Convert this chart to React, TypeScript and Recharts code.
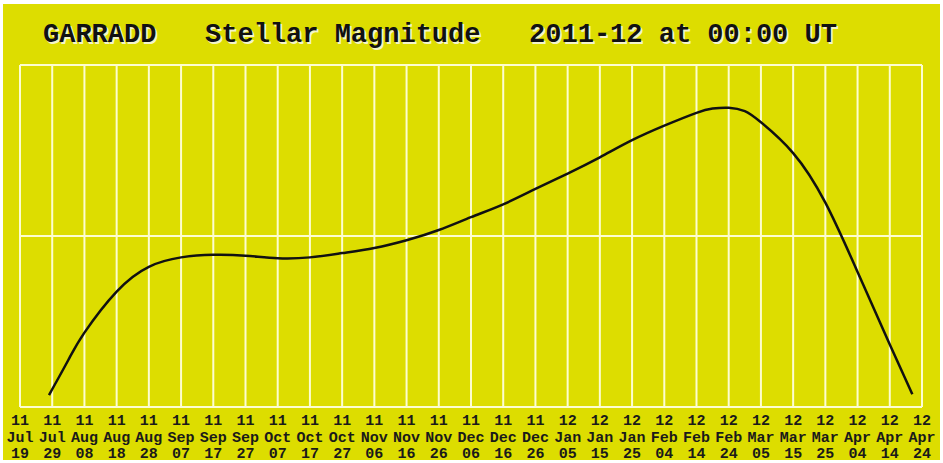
import React from "react";
import { LineChart, Line, XAxis, YAxis, CartesianGrid } from "recharts";

// days counted from 2011 Jul 19
const tickDays = [
  0, 10, 20, 30, 40, 50, 60, 70, 80, 90, 100, 110, 120, 130, 140, 150, 160,
  170, 180, 190, 200, 210, 220, 230, 240, 250, 260, 270, 280,
];
const tickYears = [
  "11", "11", "11", "11", "11", "11", "11", "11", "11", "11", "11", "11",
  "11", "11", "11", "11", "11", "12", "12", "12", "12", "12", "12", "12",
  "12", "12", "12", "12", "12",
];
const tickMonths = [
  "Jul", "Jul", "Aug", "Aug", "Aug", "Sep", "Sep", "Sep", "Oct", "Oct", "Oct",
  "Nov", "Nov", "Nov", "Dec", "Dec", "Dec", "Jan", "Jan", "Jan", "Feb", "Feb",
  "Feb", "Mar", "Mar", "Mar", "Apr", "Apr", "Apr",
];
const tickDates = [
  "19", "29", "08", "18", "28", "07", "17", "27", "07", "17", "27", "06",
  "16", "26", "06", "16", "26", "05", "15", "25", "04", "14", "24", "05",
  "15", "25", "04", "14", "24",
];

const curveDays = [
  9, 15, 20, 30, 40, 50, 60, 70, 80, 90, 100, 110, 120, 130, 140, 150, 160,
  170, 180, 190, 200, 210, 215, 220, 225, 230, 240, 250, 260, 270, 277,
];
const magnitudes = [
  9.86, 9.45, 9.13, 8.65, 8.36, 8.25, 8.22, 8.23, 8.26, 8.25, 8.2, 8.14, 8.05,
  7.93, 7.78, 7.63, 7.45, 7.27, 7.08, 6.88, 6.71, 6.56, 6.51, 6.5, 6.54, 6.67,
  7.03, 7.61, 8.42, 9.27, 9.85,
];

const data = curveDays.map((d, i) => ({ day: d, mag: magnitudes[i] }));

const FONT = "'Liberation Mono', 'DejaVu Sans Mono', monospace";

const DateTick = (props: any) => {
  const { x, y, payload } = props;
  const i = tickDays.indexOf(payload.value);
  if (i < 0) return null;
  return (
    <text
      x={x}
      y={y}
      textAnchor="middle"
      fontFamily={FONT}
      fontSize={15}
      fontWeight="bold"
      fill="#1a1a1a"
    >
      <tspan x={x} dy={18}>{tickYears[i]}</tspan>
      <tspan x={x} dy={17}>{tickMonths[i]}</tspan>
      <tspan x={x} dy={16}>{tickDates[i]}</tspan>
    </text>
  );
};

export default function App() {
  return (
    <div
      style={{
        position: "absolute",
        left: 0,
        top: 0,
        width: 943,
        height: 463,
        background: "#ffffff",
      }}
    >
      <div
        style={{
          position: "absolute",
          left: 3,
          top: 4,
          width: 937,
          height: 456,
          background: "#dddd00",
        }}
      />
      <div
        style={{
          position: "absolute",
          left: 43,
          top: 19,
          fontFamily: FONT,
          fontWeight: "bold",
          fontSize: 27,
          whiteSpace: "pre",
          color: "#111",
          textShadow: "2px 2px 0 #f4f4c8",
          lineHeight: "32px",
        }}
      >
        {"GARRADD   Stellar Magnitude   2011-12 at 00:00 UT"}
      </div>
      <div style={{ position: "absolute", left: 0, top: 0 }}>
        <LineChart
          width={943}
          height={463}
          data={data}
          margin={{ top: 65, right: 21, left: 20, bottom: 0 }}
        >
          <CartesianGrid stroke="#fdfdd0" strokeWidth={2} />
          <XAxis
            dataKey="day"
            type="number"
            domain={[0, 280]}
            ticks={tickDays}
            interval={0}
            axisLine={false}
            tickLine={false}
            tickSize={0}
            tickMargin={0}
            height={56}
            tick={<DateTick />}
          />
          <YAxis
            type="number"
            domain={[6, 10]}
            ticks={[6, 8, 10]}
            reversed
            hide
          />
          <Line
            type="natural"
            dataKey="mag"
            stroke="#111111"
            strokeWidth={2.5}
            dot={false}
            isAnimationActive={false}
          />
        </LineChart>
      </div>
    </div>
  );
}
